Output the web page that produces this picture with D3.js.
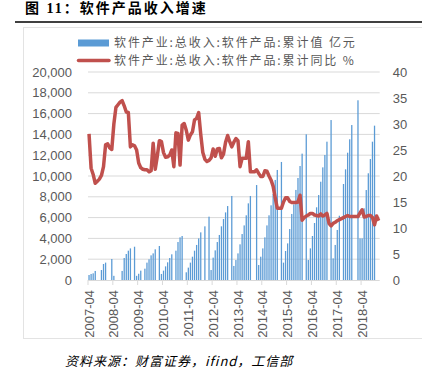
<!DOCTYPE html>
<html>
<head>
<meta charset="utf-8">
<script src="https://cdn.jsdelivr.net/npm/d3@7/dist/d3.min.js"></script>
<style>
  body { margin: 0; background: #fff; }
  svg { display: block; }
</style>
</head>
<body>
<div id="chart"></div>
<script>
// monthly slots from 2007-04, 141 of them
const firstMonth = new Date(2007, 3, 1);
const months = d3.timeMonth.range(firstMonth, d3.timeMonth.offset(firstMonth, 141)).map(d3.timeFormat("%Y-%m"));
const tickLabels = ["2007-04", "2008-04", "2009-04", "2010-04", "2011-04", "2012-04",
  "2013-04", "2014-04", "2015-04", "2016-04", "2017-04", "2018-04"];

// 软件产品累计值 (亿元), null = no bar in that slot
const revenue = [
  480, 580, 640, 870, null, null, 960, 1540, 1670, null, null, 2020,
  400, null, null, null, 870, 2115, 2500, 2820, 3040, null, 3200, 400,
  600, 900, null, 1090, 1670, 1990, 2370, 2560, 2950, null, 3270, 580,
  900, 1310, 1700, 2115, 2470, null, 2820, 3650, 4100, 4230, null, 740,
  1190, 1670, 2240, 2820, 3370, 4000, 4580, null, 5160, null, 6090, 960,
  2150, 2850, 3650, 4330, 5160, 5860, 6500, 7110, null, 8080, 1350, 1920,
  2560, 3430, 4420, 5250, 6220, 7370, 8080, null, null, 9130, 1440, 2240,
  3040, 4100, 5250, 6220, 7180, 8270, 9620, 10580, null, 11350, 1670, 2790,
  3520, 4900, 6350, 7270, 8660, 9810, 10960, 12150, null, 14010, 1920, 3040,
  4230, 5480, 6990, 8170, 9450, 10830, 12020, 13300, null, 15380, 2080, 3370,
  4810, 6180, null, 9230, 10640, 12240, 13530, 14900, null, null, 17280, 4000,
  4000, 6890, 8650, 10260, 11630, 13300, 14840, null, null
];

// 累计同比 (%)
const growth = [
  28.1, 21.5, 20.3, 18.6, 19.0, 19.4, 20.1, 21.8, 26.0, 26.2, 25.4, 25.1,
  30.0, 33.2, 33.7, 34.2, 34.5, 33.5, 32.3, 32.2, 25.6, 26.0, 25.8, 25.0,
  22.5, 21.6, 21.3, 21.2, 21.2, 20.8, 21.0, 26.3, 21.3, 23.8, 26.8, 26.6,
  24.5, 23.6, 23.7, 24.0, 25.0, 21.8, 28.3, 28.2, 22.1, 29.8, 30.1, 28.8,
  26.9, 27.9, 28.5, 30.8, 31.1, 32.2, 28.0, 24.5, 23.2, 22.8, 23.0, 23.5,
  25.2, 23.8, 25.2, 25.3, 23.5, 24.2, 26.5, 27.8, 26.6, 25.6, 26.5, 27.2,
  26.8, 21.8, 23.4, 23.4, 23.4, 26.6, 20.8, 20.8, 20.8, 21.2, 20.5, 19.9,
  19.9, 21.0, 20.9, 20.0, 19.2, 18.0, 15.8, 13.8, 13.8, 13.8, 15.0, 15.8,
  15.8, 15.1, 14.9, 14.9, 14.9, 15.0, 16.3, 11.5, 12.0, 12.3, 12.5, 12.8,
  12.8, 12.5, 12.4, 12.3, 12.7, 12.3, 12.5, 12.8, 10.9, 10.4, 10.9, 11.1,
  11.4, 11.6, 11.8, 12.0, 12.2, 12.4, 12.2, 12.2, 12.2, 12.2, 12.2, 12.9,
  13.5, 12.1, 12.2, 12.4, 12.4, 12.0, 10.6, 12.3, 11.4
];

const leftTicks = [0, 2000, 4000, 6000, 8000, 10000, 12000, 14000, 16000, 18000, 20000];
const rightTicks = [0, 5, 10, 15, 20, 25, 30, 35, 40];
const legendLabels = ["软件产业:总收入:软件产品:累计值 亿元", "软件产业:总收入:软件产品:累计同比 %"];

const width = 422, height = 388;
const plot = { left: 88, right: 379.7, top: 72, bottom: 280 };
const grey = "#595959";

const svg = d3.select("#chart").append("svg")
  .attr("width", width)
  .attr("height", height);

// title
svg.append("text")
  .attr("x", 25).attr("y", 12.5)
  .attr("font-family", "'Liberation Serif', 'Noto Sans CJK SC'")
  .attr("font-weight", "bold")
  .attr("font-size", 14)
  .attr("letter-spacing", 2)
  .text("图 11：软件产品收入增速");

svg.append("line")
  .attr("x1", 15).attr("x2", 422)
  .attr("y1", 22).attr("y2", 22)
  .attr("stroke", "#000").attr("stroke-width", 1.5);

// chart area border
svg.append("rect")
  .attr("x", 23.5).attr("y", 27.5)
  .attr("width", 420).attr("height", 311)
  .attr("fill", "none")
  .attr("stroke", "#e3e3e3");

const x = d3.scaleBand()
  .domain(months)
  .range([plot.left, plot.right])
  .padding(0);

const y = d3.scaleLinear().domain([0, 20000]).range([plot.bottom, plot.top]);
const y2 = d3.scaleLinear().domain([0, 40]).range([plot.bottom, plot.top]);

// gridlines
svg.append("g")
  .selectAll("line")
  .data(leftTicks.slice(1))
  .join("line")
  .attr("x1", plot.left).attr("x2", plot.right)
  .attr("y1", d => y(d)).attr("y2", d => y(d))
  .attr("stroke", "#d9d9d9")
  .attr("stroke-width", 1);

// left axis
const yAxis = svg.append("g")
  .attr("transform", `translate(${plot.left - 16},0)`)
  .call(d3.axisLeft(y).tickValues(leftTicks).tickFormat(d3.format(",")).tickSize(0).tickPadding(0));
yAxis.select(".domain").remove();
yAxis.selectAll("text")
  .attr("font-family", "'Liberation Sans', Arial")
  .attr("font-size", 13)
  .attr("fill", grey);

// right axis
const y2Axis = svg.append("g")
  .attr("transform", `translate(${plot.right + 13},0)`)
  .call(d3.axisRight(y2).tickValues(rightTicks).tickSize(0).tickPadding(0));
y2Axis.select(".domain").remove();
y2Axis.selectAll("text")
  .attr("font-family", "'Liberation Sans', Arial")
  .attr("font-size", 13)
  .attr("fill", grey);

// bars
const barW = x.bandwidth() * 0.62;
svg.append("g")
  .selectAll("rect")
  .data(months.map((m, i) => ({ m, v: revenue[i] })).filter(d => d.v != null))
  .join("rect")
  .attr("x", d => x(d.m) + (x.bandwidth() - barW) / 2)
  .attr("width", barW)
  .attr("y", d => y(d.v))
  .attr("height", d => y(0) - y(d.v))
  .attr("fill", "#5b9bd5");

// x axis
svg.append("line")
  .attr("x1", plot.left).attr("x2", plot.right)
  .attr("y1", plot.bottom + 0.5).attr("y2", plot.bottom + 0.5)
  .attr("stroke", "#d9d9d9");

const xt = svg.append("g");
xt.selectAll("line")
  .data(tickLabels)
  .join("line")
  .attr("x1", d => x(d)).attr("x2", d => x(d))
  .attr("y1", plot.bottom).attr("y2", plot.bottom + 5)
  .attr("stroke", "#d9d9d9");
xt.selectAll("text")
  .data(tickLabels)
  .join("text")
  .attr("transform", d => `translate(${x(d) + 1},290) rotate(-90)`)
  .attr("text-anchor", "end")
  .attr("dy", "0.35em")
  .attr("font-family", "'Liberation Sans', Arial")
  .attr("font-size", 13)
  .attr("fill", grey)
  .text(d => d);

// line
const line = d3.line()
  .x((d, i) => x(months[i]) + x.bandwidth() / 2)
  .y(d => y2(d))
  .defined(d => d != null);

svg.append("path")
  .datum(growth)
  .attr("d", line)
  .attr("fill", "none")
  .attr("stroke", "#c0504d")
  .attr("stroke-width", 3.5)
  .attr("stroke-linejoin", "round");

// legend
const lg = svg.append("g");
lg.append("rect")
  .attr("x", 78).attr("y", 39.5)
  .attr("width", 31).attr("height", 7)
  .attr("fill", "#5b9bd5");
lg.append("line")
  .attr("x1", 78.5).attr("x2", 109)
  .attr("y1", 60.5).attr("y2", 60.5)
  .attr("stroke", "#c0504d")
  .attr("stroke-width", 3.5)
  .attr("stroke-linecap", "round");
lg.selectAll("text")
  .data(legendLabels)
  .join("text")
  .attr("x", 114)
  .attr("y", (d, i) => 43 + i * 17.5)
  .attr("dy", "0.35em")
  .attr("font-family", "'Noto Sans CJK SC'")
  .attr("font-size", 12)
  .attr("letter-spacing", 1.9)
  .attr("fill", grey)
  .text(d => d);

// source
svg.append("text")
  .attr("x", 65).attr("y", 361)
  .attr("dy", "0.35em")
  .attr("font-family", "'Noto Sans CJK SC'")
  .attr("font-style", "italic")
  .attr("font-size", 13)
  .attr("letter-spacing", 1)
  .attr("fill", "#000")
  .text("资料来源：财富证券，ifind，工信部");
</script>
</body>
</html>
